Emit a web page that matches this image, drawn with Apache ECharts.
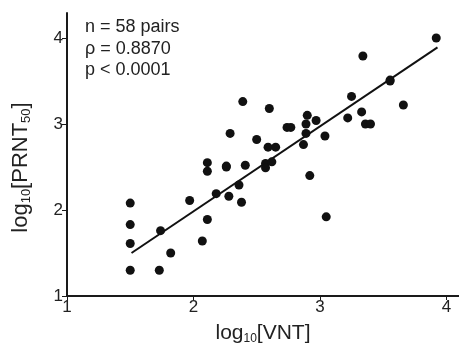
<!DOCTYPE html>
<html>
<head>
<meta charset="utf-8">
<script src="https://cdn.jsdelivr.net/npm/echarts@6/dist/echarts.min.js"></script>
<style>
html,body{margin:0;padding:0;background:#fff;}
#chart{width:459px;height:350px;}
</style>
</head>
<body>
<div id="chart"></div>
<script>
// Data
var vnt  = [1.50,1.50,1.50,1.50,1.73,1.74,1.82,1.97,2.07,2.11,2.11,2.11,2.18,2.26,2.26,2.28,2.29,2.36,2.38,2.39,2.41,2.50,2.57,2.57,2.62,2.59,2.65,2.60,2.74,2.77,2.87,2.89,2.89,2.90,2.92,2.97,3.04,3.05,3.22,3.25,3.33,3.34,3.36,3.40,3.555,3.555,3.66,3.92];
var prnt = [2.08,1.83,1.61,1.30,1.30,1.76,1.50,2.11,1.64,1.89,2.55,2.45,2.19,2.51,2.50,2.16,2.89,2.29,2.09,3.26,2.52,2.82,2.54,2.49,2.56,2.73,2.73,3.18,2.96,2.96,2.76,2.89,3.00,3.10,2.40,3.04,2.86,1.92,3.07,3.32,3.14,3.79,3.00,3.00,3.50,3.51,3.22,4.00];
var fitX = [1.51, 3.93];
var fitY = [1.50, 3.89];
var xTicks = [1, 2, 3, 4];
var yTicks = [1, 2, 3, 4];
var statsLines = ['n = 58 pairs', '\u03c1 = 0.8870', 'p < 0.0001'];

var pts = vnt.map(function (v, i) { return [v, prnt[i]]; });
var fit = fitX.map(function (v, i) { return [v, fitY[i]]; });

var FONT = 'Liberation Sans, Arial, sans-serif';
function nameRich(fs, ss) {
  return {
    m: {fontSize: fs, fontFamily: FONT, color: '#222', lineHeight: 24, verticalAlign: 'middle'},
    s: {fontSize: ss, fontFamily: FONT, color: '#222', lineHeight: 8, verticalAlign: 'bottom'}
  };
}
var chart = echarts.init(document.getElementById('chart'), null, {renderer: 'canvas'});
chart.setOption({
  animation: false,
  backgroundColor: '#ffffff',
  grid: {left: 67, top: 13, width: 392, height: 288, containLabel: false},
  xAxis: {
    type: 'value', min: 1, max: 4.1, interval: 1,
    axisLine: {lineStyle: {color: '#1a1a1a', width: 2}},
    axisTick: {show: true, length: 4, customValues: xTicks, lineStyle: {color: '#1a1a1a', width: 1}},
    axisLabel: {color: '#222', fontSize: 17, fontFamily: FONT, margin: 3, customValues: xTicks},
    splitLine: {show: false},
    name: '{m|log}{s|10}{m|[VNT]}',
    nameLocation: 'middle', nameGap: 25,
    nameTextStyle: {rich: nameRich(21, 12)}
  },
  yAxis: {
    type: 'value', min: 1, max: 4.29, interval: 1,
    axisLine: {lineStyle: {color: '#1a1a1a', width: 2}},
    axisTick: {show: true, length: 5, customValues: yTicks, lineStyle: {color: '#1a1a1a', width: 1}},
    axisLabel: {color: '#222', fontSize: 17, fontFamily: FONT, margin: 4, customValues: yTicks},
    splitLine: {show: false},
    name: '{m|log}{s|10}{m|[PRNT}{s|50}{m|]}',
    nameLocation: 'middle', nameGap: 34, nameRotate: 90,
    nameTextStyle: {padding: [0, 26, 0, 0], rich: nameRich(22, 13)}
  },
  series: [
    {
      type: 'line', data: fit, symbol: 'none', silent: true,
      lineStyle: {color: '#111', width: 2}, z: 1
    },
    {
      type: 'scatter', data: pts, symbol: 'circle', symbolSize: 9,
      itemStyle: {color: '#111', opacity: 1}, z: 2
    }
  ],
  graphic: [
    {
      type: 'text', left: 85, top: 16,
      style: {text: statsLines.join('\n'), fontSize: 18, fontFamily: FONT, fill: '#222', lineHeight: 21.7}
    }
  ]
});
</script>
</body>
</html>
